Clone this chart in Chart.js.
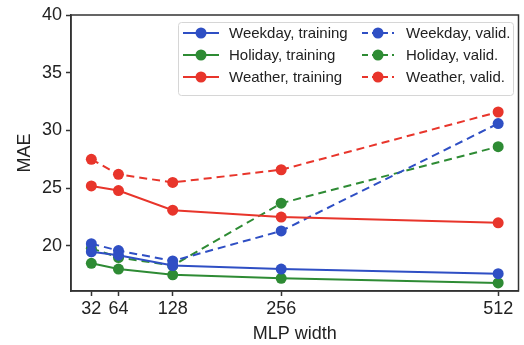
<!DOCTYPE html>
<html>
<head>
<meta charset="utf-8">
<script src="https://cdn.jsdelivr.net/npm/chart.js@4/dist/chart.umd.min.js"></script>
<style>
  html, body { margin: 0; padding: 0; background: #fff; }
  #wrap { width: 524px; height: 345px; position: relative; }
</style>
</head>
<body>
<div id="wrap"><canvas id="mae"></canvas></div>
<script>
const widths = [32, 64, 128, 256, 512];
const yTicks = [20, 25, 30, 35, 40];

const weekdayTrain = [19.5, 19.2, 18.3, 18.0, 17.6];
const holidayTrain = [18.5, 18.0, 17.5, 17.2, 16.8];
const weatherTrain = [25.2, 24.8, 23.1, 22.5, 22.0];
const weekdayValid = [20.2, 19.6, 18.7, 21.3, 30.6];
const holidayValid = [19.8, 19.0, 18.3, 23.7, 28.6];
const weatherValid = [27.5, 26.2, 25.5, 26.6, 31.6];

const blue = '#2f4fc4';
const green = '#2e8b34';
const red = '#e8352b';
const dash = [8, 5];
const fontFam = '"Liberation Sans", Arial, sans-serif';

function series(label, values, color, dashed) {
    return {
        label: label,
        data: widths.map((w, i) => ({ x: w, y: values[i] })),
        borderColor: color,
        backgroundColor: color,
        borderWidth: 2,
        borderDash: dashed ? dash : [],
        pointRadius: 5.5,
        pointHoverRadius: 5.5,
        pointBorderWidth: 0,
        tension: 0
    };
}

// legend with two columns, like the matplotlib one
const twoColLegend = {
    id: 'twoColLegend',
    afterDraw(chart) {
        const c = chart.ctx;
        const ds = chart.data.datasets;
        c.save();
        c.fillStyle = 'rgba(255,255,255,0.85)';
        c.strokeStyle = '#d6d6d6';
        c.lineWidth = 1;
        c.beginPath();
        c.roundRect(178.5, 22.5, 335, 73, 3);
        c.fill();
        c.stroke();
        c.font = '15px ' + fontFam;
        c.textBaseline = 'middle';
        const rows = [33, 55, 77];
        const cols = [{ x0: 183, x1: 219, tx: 229 }, { x0: 362, x1: 394, tx: 406 }];
        ds.forEach((d, i) => {
            const col = cols[Math.floor(i / 3)];
            const y = rows[i % 3];
            c.strokeStyle = d.borderColor;
            c.lineWidth = 2;
            c.setLineDash(d.borderDash.length ? [6, 4] : []);
            c.beginPath();
            c.moveTo(col.x0, y);
            c.lineTo(col.x1, y);
            c.stroke();
            c.setLineDash([]);
            c.fillStyle = d.borderColor;
            c.beginPath();
            c.arc((col.x0 + col.x1) / 2, y, 5.5, 0, Math.PI * 2);
            c.fill();
            c.fillStyle = '#222';
            c.fillText(d.label, col.tx, y + 1);
        });
        c.restore();
    }
};

// full box around the plot area
const frame = {
    id: 'frame',
    afterDatasetsDraw(chart) {
        const a = chart.chartArea;
        const c = chart.ctx;
        c.save();
        c.strokeStyle = '#333';
        c.lineWidth = 1.5;
        c.strokeRect(a.left, a.top, a.right - a.left, a.bottom - a.top);
        c.restore();
    }
};

new Chart(document.getElementById('mae'), {
    type: 'line',
    data: {
        datasets: [
            series('Weekday, training', weekdayTrain, blue, false),
            series('Holiday, training', holidayTrain, green, false),
            series('Weather, training', weatherTrain, red, false),
            series('Weekday, valid.', weekdayValid, blue, true),
            series('Holiday, valid.', holidayValid, green, true),
            series('Weather, valid.', weatherValid, red, true)
        ]
    },
    options: {
        responsive: true,
        maintainAspectRatio: false,
        animation: false,
        layout: { padding: { top: 15, right: 1, left: 0, bottom: 0 } },
        plugins: {
            legend: { display: false },
            tooltip: { enabled: false }
        },
        scales: {
            x: {
                type: 'linear',
                min: 8,
                max: 536,
                afterBuildTicks: s => { s.ticks = widths.map(v => ({ value: v })); },
                afterFit: s => { s.height = 54; },
                grid: { drawOnChartArea: false, tickLength: 5, color: '#333', tickWidth: 1.5 },
                border: { color: '#333', width: 1.5 },
                ticks: { color: '#222', font: { family: fontFam, size: 18 }, padding: 2, maxRotation: 0 },
                title: { display: true, text: 'MLP width', color: '#222', font: { family: fontFam, size: 18 }, padding: { top: 0, bottom: 0 } }
            },
            y: {
                min: 16.1,
                max: 40,
                afterBuildTicks: s => { s.ticks = yTicks.map(v => ({ value: v })); },
                afterFit: s => { s.width = 71; },
                grid: { drawOnChartArea: false, tickLength: 5, color: '#333', tickWidth: 1.5 },
                border: { color: '#333', width: 1.5 },
                ticks: { color: '#222', font: { family: fontFam, size: 18 }, padding: 4 },
                title: { display: true, text: 'MAE', color: '#222', font: { family: fontFam, size: 18 }, padding: { top: 14, bottom: 0 } }
            }
        }
    },
    plugins: [frame, twoColLegend]
});
</script>
</body>
</html>
